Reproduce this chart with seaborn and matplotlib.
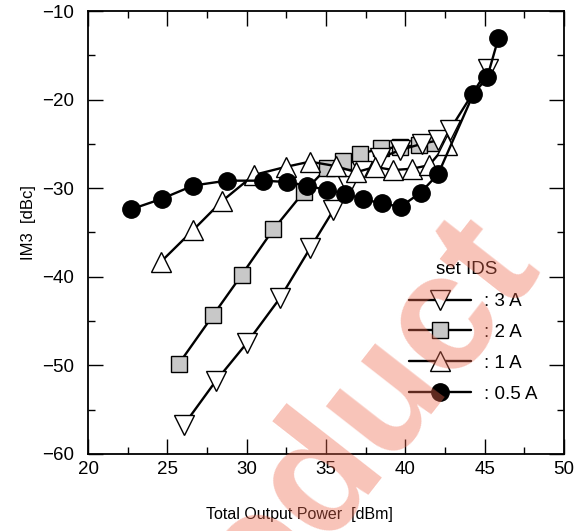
import matplotlib
matplotlib.use("Agg")
import matplotlib.pyplot as plt
import seaborn as sns
import numpy as np
from matplotlib.ticker import MultipleLocator

# ---- data ----
x_3A = [26.05, 28.04, 30.0, 32.1, 33.99, 35.46, 36.4, 37.25, 38.4, 39.66, 41.02, 42.07, 42.81, 45.23]
y_3A = [-56.7, -51.8, -47.5, -42.4, -36.8, -32.5, -29.7, -28.1, -26.6, -25.7, -25.0, -24.6, -23.4, -16.5]

x_2A = [25.73, 27.9, 29.68, 31.68, 33.61, 35.04, 36.05, 37.15, 38.45, 39.66, 40.85, 41.9]
y_2A = [-49.8, -44.3, -39.8, -34.65, -30.4, -27.75, -26.9, -26.15, -25.5, -25.4, -25.1, -24.85]

x_1A = [24.6, 26.64, 28.42, 30.46, 32.45, 33.99, 35.6, 36.9, 38.08, 39.24, 40.43, 41.5, 42.6]
y_1A = [-38.3, -34.7, -31.5, -28.5, -27.6, -27.0, -27.5, -28.2, -27.6, -27.95, -27.8, -27.4, -25.1]

x_05A = [22.69, 24.64, 26.64, 28.74, 31.0, 32.56, 33.78, 35.04, 36.19, 37.35, 38.5, 39.7, 40.96, 42.07, 44.28, 45.16, 45.86]
y_05A = [-32.4, -31.2, -29.7, -29.15, -29.15, -29.3, -29.7, -30.2, -30.6, -31.25, -31.7, -32.1, -30.5, -28.4, -19.4, -17.5, -13.1]

labels = [": 3 A", ": 2 A", ": 1 A", ": 0.5 A"]

sns.set_theme(style="white")
plt.rcParams['font.family'] = ['Liberation Sans', 'DejaVu Sans']
plt.rcParams['axes.unicode_minus'] = True

fig = plt.figure(figsize=(5.84, 5.31), dpi=100)
ax = fig.add_axes([88/584, 1-454/531, (564-88)/584, (454-11)/531])

common = dict(color='black', linewidth=1.7, markeredgecolor='black',
              markeredgewidth=1.0, sort=False, ax=ax)
sns.lineplot(x=x_2A, y=y_2A, marker='s', markersize=12, markerfacecolor='#c8c8c8',
             label=labels[1], zorder=2, **common)
sns.lineplot(x=x_3A, y=y_3A, marker='v', markersize=14, markerfacecolor='white',
             label=labels[0], zorder=3, **common)
sns.lineplot(x=x_1A, y=y_1A, marker='^', markersize=14, markerfacecolor='white',
             label=labels[2], zorder=4, **common)
sns.lineplot(x=x_05A, y=y_05A, marker='o', markersize=12.5, markerfacecolor='black',
             label=labels[3], zorder=5, **common)

ax.set_xlim(20, 50)
ax.set_ylim(-60, -10)
ax.xaxis.set_major_locator(MultipleLocator(5))
ax.xaxis.set_minor_locator(MultipleLocator(2.5))
ax.yaxis.set_major_locator(MultipleLocator(10))
ax.yaxis.set_minor_locator(MultipleLocator(5))
ax.tick_params(which='both', direction='in', top=True, right=True, bottom=True, left=True,
               color='black', width=1.0)
ax.tick_params(which='major', length=10.5, labelsize=13.5, labelcolor='black')
ax.tick_params(which='minor', length=5)
ax.tick_params(axis='x', which='major', pad=5)
ax.tick_params(axis='y', which='major', pad=10)
for s in ax.spines.values():
    s.set_color('black')
    s.set_linewidth(1.3)
ax.grid(False)

ax.set_xlabel("Total Output Power  [dBm]", fontsize=11.5, color='black')
ax.set_ylabel("IM3  [dBc]", fontsize=12, color='black')
ax.xaxis.label.set_va('center')
ax.yaxis.label.set_va('center')
ax.xaxis.set_label_coords((299-88)/476, (454-515)/443)
ax.yaxis.set_label_coords((28-88)/476, (454-223)/443)

handles, labs = ax.get_legend_handles_labels()
order = [labs.index(l) for l in labels]
leg = ax.legend([handles[i] for i in order], [labs[i] for i in order],
                loc='upper left',
                bbox_to_anchor=(409/584, 1-293/531), bbox_transform=fig.transFigure,
                frameon=False, fontsize=13.5, handlelength=3.3,
                handletextpad=0.7, labelspacing=0.73, borderpad=0, borderaxespad=0)
for t in leg.get_texts():
    t.set_color('black')
fig.text(467/584, 1-270/531, "set IDS", fontsize=13.5, color='black',
         ha='center', va='center')

# watermark
fig.text(540/584, 1-262/531, "Product", fontsize=120, fontweight='bold',
         color='#EE6A50', alpha=0.4, rotation=52, rotation_mode='anchor',
         ha='right', va='baseline', zorder=10)

fig.savefig("out.png", dpi=100)
